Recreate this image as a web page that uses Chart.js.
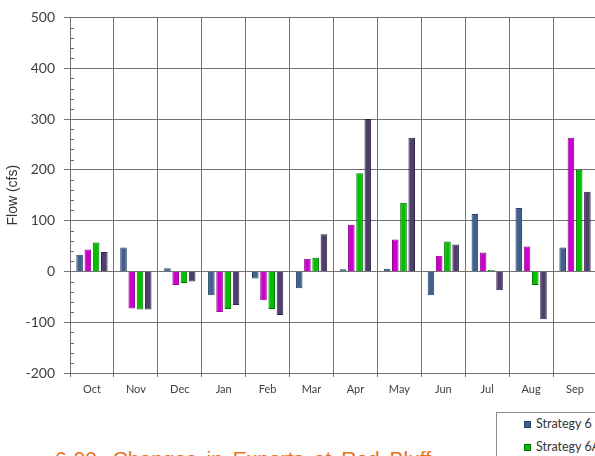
<!DOCTYPE html>
<html>
<head>
<meta charset="utf-8">
<script src="https://cdn.jsdelivr.net/npm/chart.js@4.4.1/dist/chart.umd.min.js"></script>
<style>
  html, body { margin: 0; padding: 0; background: #fff; }
  body { width: 595px; height: 456px; overflow: hidden; position: relative; }
  #wrap { position: absolute; left: 0; top: 0; width: 620px; height: 400px; }
  #legend {
    position: absolute; left: 496px; top: 412px; width: 280px; height: 80px;
    border: 1px solid #8c8c8c; background: #fff;
    font-family: Lato, "Open Sans", sans-serif; font-size: 12.5px; color: #333;
  }
  .item { position: absolute; white-space: nowrap; line-height: 14px; }
  .swatch { display: inline-block; width: 5px; height: 5px; margin-right: 5px; border: 1px solid; vertical-align: 0px; }
  #caption {
    position: absolute; left: 55px; top: 448px; white-space: nowrap; word-spacing: 4px;
    font-family: "Liberation Sans", Arial, sans-serif; font-size: 21px; line-height: 21px; color: #E8731E;
  }
</style>
</head>
<body>
<div id="wrap"><canvas id="flowChart" width="620" height="400"></canvas></div>
<div id="legend"></div>
<div id="caption">6-90. Changes in Exports at Red Bluff</div>
<script>
// maanden en waarden (cfs) per strategie
const months = ['Oct', 'Nov', 'Dec', 'Jan', 'Feb', 'Mar', 'Apr', 'May', 'Jun', 'Jul', 'Aug', 'Sep'];
const seriesNames = ['Strategy 6', 'Strategy 6B', 'Strategy 6A', 'Strategy 6C'];
const strategy6  = [33, 47, 6, -47, -14, -33, 4, 5, -47, 113, 125, 47];
const strategy6B = [43, -73, -27, -80, -57, 25, 92, 63, 31, 37, 49, 263];
const strategy6A = [57, -75, -23, -74, -74, 27, 193, 135, 59, 3, -27, 200];
const strategy6C = [38, -75, -20, -66, -86, 73, 300, 263, 53, -37, -94, 157];
const yTicks = [-200, -100, 0, 100, 200, 300, 400, 500];

const fills   = ['#41608E', '#CC00CC', '#00C000', '#4F3E6C'];
const borders = ['#2A4066', '#880088', '#007000', '#2F2545'];
const allValues = [strategy6, strategy6B, strategy6A, strategy6C];

// kleine streepjes op de y-as (elke 20)
const minorTicks = {
    id: 'minorTicks',
    afterDraw(chart) {
        const y = chart.scales.y;
        const ctx = chart.ctx;
        ctx.save();
        ctx.strokeStyle = '#6f6f6f';
        ctx.lineWidth = 1;
        for (let v = yTicks[0]; v <= yTicks[yTicks.length - 1]; v += 20) {
            if (v % 100 === 0) continue;
            const py = Math.round(y.getPixelForValue(v)) + 0.5;
            ctx.beginPath();
            ctx.moveTo(y.left + y.width, py);
            ctx.lineTo(y.left + y.width + 4, py);
            ctx.stroke();
        }
        ctx.restore();
    }
};

const ctx = document.getElementById('flowChart').getContext('2d');
const flowChart = new Chart(ctx, {
    type: 'bar',
    data: {
        labels: months,
        datasets: allValues.map((vals, i) => ({
            label: seriesNames[i],
            data: vals,
            backgroundColor: fills[i],
            borderColor: borders[i],
            borderWidth: 1,
            categoryPercentage: 0.75,
            barPercentage: 0.8
        }))
    },
    options: {
        responsive: false,
        animation: false,
        layout: { padding: { top: 16, right: 23, left: 0, bottom: 0 } },
        plugins: {
            legend: { display: false },
            tooltip: { enabled: false }
        },
        scales: {
            x: {
                afterFit(scale) { scale.height = 27; },
                grid: { color: '#737373', offset: true, tickLength: 4 },
                border: { color: '#737373' },
                ticks: {
                    font: { family: 'Lato', size: 11 },
                    color: '#404040',
                    padding: 6,
                    maxRotation: 0
                }
            },
            y: {
                min: -200,
                max: 500,
                afterFit(scale) { scale.width = 70; },
                afterBuildTicks(scale) { scale.ticks = yTicks.map(v => ({ value: v })); },
                grid: { color: '#737373', tickLength: 6 },
                border: { color: '#737373' },
                ticks: {
                    font: { family: 'Lato', size: 14 },
                    color: '#404040',
                    padding: 9
                },
                title: {
                    display: true,
                    text: 'Flow (cfs)',
                    font: { family: 'Liberation Sans', size: 14 },
                    color: '#333',
                    padding: { top: 5, bottom: 0 }
                }
            }
        }
    },
    plugins: [minorTicks]
});

// legenda als html, twee kolommen (tweede kolom valt buiten beeld)
const legend = document.getElementById('legend');
seriesNames.forEach((name, i) => {
    const el = document.createElement('div');
    el.className = 'item';
    el.style.left = (27 + (i % 2) * 140) + 'px';
    el.style.top = (4 + Math.floor(i / 2) * 23) + 'px';
    el.innerHTML = '<span class="swatch" style="background:' + fills[i] + ';border-color:' + borders[i] + '"></span>' + name;
    legend.appendChild(el);
});
</script>
</body>
</html>
